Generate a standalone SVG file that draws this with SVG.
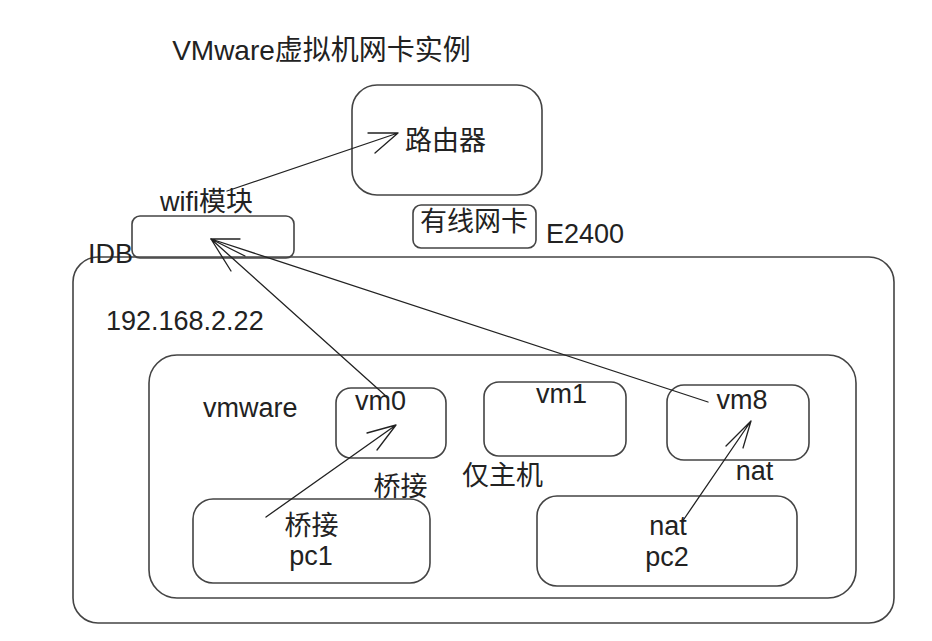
<svg xmlns="http://www.w3.org/2000/svg" width="932" height="641" viewBox="0 0 932 641">
<style>
.box{fill:none;stroke:#444;stroke-width:1.6}
.t{font-family:"Liberation Sans","Noto Sans CJK SC",sans-serif;font-size:27px;fill:#222}
.m{text-anchor:middle}
.c{fill:none;stroke:#222;stroke-width:1.3;stroke-linecap:round;stroke-linejoin:round}
</style>
<rect width="932" height="641" fill="#fff"/>
<text class="t m" x="321.5" y="60" style="font-size:28px">VMware虚拟机网卡实例</text>
<g id="host">
<rect class="box" x="73" y="257" width="821" height="366" rx="25"/>
<text class="t" x="88" y="263">IDB</text>
<text class="t" x="106" y="330">192.168.2.22</text>
</g>
<g id="router">
<rect class="box" x="352" y="85" width="190" height="110" rx="25"/>
<text class="t m" x="445.5" y="150">路由器</text>
</g>
<g id="wifi">
<rect class="box" x="132" y="216" width="162" height="42" rx="8"/>
<text class="t m" x="206.5" y="211">wifi模块</text>
</g>
<g id="wired">
<rect class="box" x="413" y="205" width="123" height="43" rx="8"/>
<text class="t m" x="474" y="231">有线网卡</text>
<text class="t" x="546" y="243">E2400</text>
</g>
<g id="vmware">
<rect class="box" x="149" y="355" width="707" height="243" rx="28"/>
<text class="t" x="203" y="417">vmware</text>
</g>
<g id="vm0">
<rect class="box" x="336" y="388" width="110" height="70" rx="15"/>
<text class="t m" x="380.5" y="410">vm0</text>
<text class="t m" x="400.5" y="496">桥接</text>
</g>
<g id="vm1">
<rect class="box" x="484" y="382" width="142" height="74" rx="15"/>
<text class="t m" x="561.5" y="403">vm1</text>
<text class="t m" x="502.5" y="485">仅主机</text>
</g>
<g id="vm8">
<rect class="box" x="667" y="385" width="142" height="75" rx="17"/>
<text class="t m" x="742" y="409">vm8</text>
<text class="t m" x="754.5" y="480">nat</text>
</g>
<g id="pc1">
<rect class="box" x="193" y="499" width="237" height="84" rx="20"/>
<text class="t m" x="311.5" y="535">桥接</text>
<text class="t m" x="311" y="565">pc1</text>
</g>
<g id="pc2">
<rect class="box" x="537" y="496" width="260" height="90" rx="20"/>
<text class="t m" x="668" y="535">nat</text>
<text class="t m" x="667" y="566">pc2</text>
</g>
<g id="connectors">
<path class="c" d="M227,191 L398,133 M368,133 L398,133 L375,153"/>
<path class="c" d="M266,517 L396,425 M367,433 L396,425 L377,450"/>
<path class="c" d="M387,397 L211,239 M245,256 L211,239 L231,271"/>
<path class="c" d="M708,402 L211,239 M240,239 L211,239"/>
<path class="c" d="M682,522 L751,421 M726,446 L751,421 L743,448"/>
</g>
</svg>
